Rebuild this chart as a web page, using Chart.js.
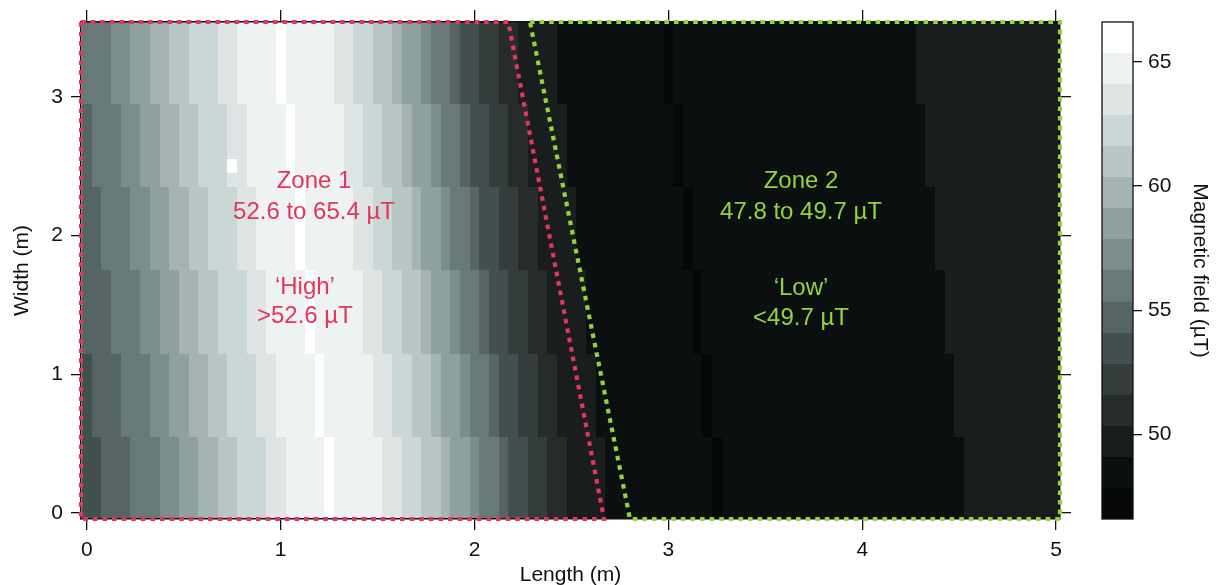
<!DOCTYPE html>
<html>
<head>
<meta charset="utf-8">
<title>Magnetic field map</title>
<script src="https://cdn.jsdelivr.net/npm/chart.js@4.4.1/dist/chart.umd.min.js"></script>
<style>
  html, body { margin: 0; padding: 0; background: #fff; }
  #wrap { width: 1217px; height: 585px; }
</style>
</head>
<body>
<div id="wrap"><canvas id="chart" width="1217" height="585"></canvas></div>
<script>
// Axes (m)
const xMin = -0.03, xMax = 5.02;
const yMin = -0.043, yMax = 3.541;
const xTicks = [0, 1, 2, 3, 4, 5];
const yTicks = [0, 1, 2, 3];

// Rows of the scan, top to bottom (y edges in m)
const rowEdgesY = [3.55, 2.95, 2.35, 1.75, 1.15, 0.55, -0.05];

// Each row: x edges of constant cells (m) and field in each cell (µT)
const row1Edges = [-0.025, 0.125, 0.225, 0.325, 0.425, 0.525, 0.675, 0.775, 0.975, 1.025, 1.275, 1.375, 1.475, 1.575, 1.625, 1.725, 1.775, 1.875, 1.925, 2.025, 2.125, 2.225, 2.325, 2.425, 2.975, 3.025, 4.275, 5.025];
const row1Field = [56.0, 57.2, 58.5, 59.7, 61.0, 62.2, 63.5, 64.7, 66.0, 64.7, 63.5, 62.2, 61.0, 59.7, 58.5, 57.2, 56.0, 54.7, 53.5, 52.2, 51.0, 49.8, 49.2, 48.5, 47.2, 48.3, 49.7];

const row2Edges = [-0.025, 0.025, 0.175, 0.275, 0.375, 0.475, 0.575, 0.725, 0.825, 1.025, 1.075, 1.325, 1.425, 1.525, 1.625, 1.675, 1.775, 1.825, 1.925, 1.975, 2.075, 2.175, 2.275, 2.375, 2.475, 3.025, 3.075, 4.325, 5.025];
const row2Field = [54.7, 56.0, 57.2, 58.5, 59.7, 61.0, 62.2, 63.5, 64.7, 66.0, 64.7, 63.5, 62.2, 61.0, 59.7, 58.5, 57.2, 56.0, 54.7, 53.5, 52.2, 51.0, 49.8, 49.2, 48.5, 47.2, 48.3, 49.7];

const row3Edges = [-0.025, 0.075, 0.225, 0.325, 0.425, 0.525, 0.625, 0.775, 0.875, 1.075, 1.125, 1.375, 1.475, 1.575, 1.675, 1.725, 1.825, 1.875, 1.975, 2.025, 2.125, 2.225, 2.325, 2.425, 2.525, 3.075, 3.125, 4.375, 5.025];
const row3Field = [54.7, 56.0, 57.2, 58.5, 59.7, 61.0, 62.2, 63.5, 64.7, 66.0, 64.7, 63.5, 62.2, 61.0, 59.7, 58.5, 57.2, 56.0, 54.7, 53.5, 52.2, 51.0, 49.8, 49.2, 48.5, 47.2, 48.3, 49.7];

const row4Edges = [-0.025, 0.125, 0.275, 0.375, 0.475, 0.575, 0.675, 0.825, 0.925, 1.125, 1.175, 1.425, 1.525, 1.625, 1.725, 1.775, 1.875, 1.925, 2.025, 2.075, 2.175, 2.275, 2.375, 2.475, 2.575, 3.125, 3.175, 4.425, 5.025];
const row4Field = [54.7, 56.0, 57.2, 58.5, 59.7, 61.0, 62.2, 63.5, 64.7, 66.0, 64.7, 63.5, 62.2, 61.0, 59.7, 58.5, 57.2, 56.0, 54.7, 53.5, 52.2, 51.0, 49.8, 49.2, 48.5, 47.2, 48.3, 49.7];

const row5Edges = [-0.025, 0.025, 0.175, 0.325, 0.425, 0.525, 0.625, 0.725, 0.875, 0.975, 1.175, 1.225, 1.475, 1.575, 1.675, 1.775, 1.825, 1.925, 1.975, 2.075, 2.125, 2.225, 2.325, 2.425, 2.525, 2.625, 3.175, 3.225, 4.475, 5.025];
const row5Field = [53.5, 54.7, 56.0, 57.2, 58.5, 59.7, 61.0, 62.2, 63.5, 64.7, 66.0, 64.7, 63.5, 62.2, 61.0, 59.7, 58.5, 57.2, 56.0, 54.7, 53.5, 52.2, 51.0, 49.8, 49.2, 48.5, 47.2, 48.3, 49.7];

const row6Edges = [-0.025, 0.075, 0.225, 0.375, 0.475, 0.575, 0.675, 0.775, 0.925, 1.025, 1.225, 1.275, 1.525, 1.625, 1.725, 1.825, 1.875, 1.975, 2.025, 2.125, 2.175, 2.275, 2.375, 2.475, 2.575, 2.675, 3.225, 3.275, 4.525, 5.025];
const row6Field = [53.5, 54.7, 56.0, 57.2, 58.5, 59.7, 61.0, 62.2, 63.5, 64.7, 66.0, 64.7, 63.5, 62.2, 61.0, 59.7, 58.5, 57.2, 56.0, 54.7, 53.5, 52.2, 51.0, 49.8, 49.2, 48.5, 47.2, 48.3, 49.7];

// single high reading inside row 2
const spikeX = [0.725, 0.775];
const spikeY = [2.45, 2.55];
const spikeField = 66.0;

// Colour bar: level edges (µT) and grey of each band, low to high
const cbLevels = [46.6, 47.85, 49.1, 50.35, 51.6, 52.85, 54.1, 55.35, 56.6, 57.85, 59.1, 60.35, 61.6, 62.85, 64.1, 65.35, 66.6];
const cbColors = ['#060707', '#0c0f0f', '#191d1d', '#262c2c', '#343c3c', '#434f4f', '#556464', '#677979',
                  '#7b8d8d', '#8ea0a0', '#a4b4b4', '#b8c6c6', '#cbd7d7', '#dfe5e5', '#eff2f2', '#ffffff'];
const cbTicks = [50, 55, 60, 65];

// Zone outlines (m)
const zone1X = [-0.03, 2.174, 2.668, -0.03, -0.03];
const zone1Y = [3.541, 3.541, -0.043, -0.043, 3.541];
const zone2X = [2.286, 5.02, 5.02, 2.802, 2.286];
const zone2Y = [3.541, 3.541, -0.043, -0.043, 3.541];

// Zone labels
const zone1Text = ['Zone 1', '52.6 to 65.4 µT', '\u2018High\u2019', '>52.6 µT'];
const zone1TextX = [1.172, 1.172, 1.125, 1.125];
const zone1TextY = [2.39, 2.17, 1.63, 1.42];
const zone2Text = ['Zone 2', '47.8 to 49.7 µT', '\u2018Low\u2019', '<49.7 µT'];
const zone2TextX = [3.684, 3.684, 3.684, 3.684];
const zone2TextY = [2.39, 2.17, 1.62, 1.405];

const RED = '#e3365c';
const GREEN = '#92d43b';
const FONT = "'Liberation Sans', Arial, sans-serif";

Chart.defaults.font.family = FONT;
Chart.defaults.color = '#111';

const rows = [
    [row1Edges, row1Field], [row2Edges, row2Field], [row3Edges, row3Field],
    [row4Edges, row4Field], [row5Edges, row5Field], [row6Edges, row6Field]
];

function fieldColor(v) {
    for (let i = 0; i < cbColors.length; i++) {
        if (v < cbLevels[i + 1]) return cbColors[i];
    }
    return cbColors[cbColors.length - 1];
}

// cells and colour bar go under the axes
const heatmapPlugin = {
    id: 'heatmap',
    beforeDraw(chart) {
        const { ctx, chartArea, scales } = chart;
        const x = scales.x, y = scales.y, cb = scales.cb;
        ctx.save();
        ctx.beginPath();
        ctx.rect(chartArea.left, chartArea.top, chartArea.width, chartArea.height);
        ctx.clip();
        rows.forEach(([edges, field], i) => {
            const yt = Math.round(y.getPixelForValue(rowEdgesY[i]));
            const yb = Math.round(y.getPixelForValue(rowEdgesY[i + 1]));
            for (let k = 0; k < field.length; k++) {
                const x0 = Math.round(x.getPixelForValue(edges[k]));
                const x1 = Math.round(x.getPixelForValue(edges[k + 1]));
                ctx.fillStyle = fieldColor(field[k]);
                ctx.fillRect(x0, yt, x1 - x0, yb - yt);
            }
        });
        const sx0 = Math.round(x.getPixelForValue(spikeX[0]));
        const sx1 = Math.round(x.getPixelForValue(spikeX[1]));
        const sy0 = Math.round(y.getPixelForValue(spikeY[1]));
        const sy1 = Math.round(y.getPixelForValue(spikeY[0]));
        ctx.fillStyle = fieldColor(spikeField);
        ctx.fillRect(sx0, sy0, sx1 - sx0, sy1 - sy0);
        ctx.restore();

        // colour bar
        const right = cb.left, left = right - 31;
        ctx.save();
        for (let i = 0; i < cbColors.length; i++) {
            const p0 = Math.round(cb.getPixelForValue(cbLevels[i]));
            const p1 = Math.round(cb.getPixelForValue(cbLevels[i + 1]));
            ctx.fillStyle = cbColors[i];
            ctx.fillRect(left, p1, right - left, p0 - p1);
        }
        ctx.strokeStyle = '#111';
        ctx.lineWidth = 1.3;
        ctx.strokeRect(left, cb.top, right - left, cb.bottom - cb.top);
        ctx.restore();
    },
    afterDatasetsDraw(chart) {
        const { ctx, scales: { x, y } } = chart;
        ctx.save();
        ctx.font = '24px ' + FONT;
        ctx.textAlign = 'center';
        ctx.textBaseline = 'middle';
        ctx.fillStyle = RED;
        zone1Text.forEach((t, i) => ctx.fillText(t, x.getPixelForValue(zone1TextX[i]), y.getPixelForValue(zone1TextY[i])));
        ctx.fillStyle = GREEN;
        zone2Text.forEach((t, i) => ctx.fillText(t, x.getPixelForValue(zone2TextX[i]), y.getPixelForValue(zone2TextY[i])));
        ctx.restore();
    }
};

const frameGrid = { drawOnChartArea: false, color: '#111', lineWidth: 1.3 };
const frameBorder = { display: true, color: '#111', width: 1.5 };

new Chart(document.getElementById('chart'), {
    type: 'scatter',
    data: {
        datasets: [
            {
                data: zone1X.map((v, i) => ({ x: v, y: zone1Y[i] })),
                showLine: true, borderColor: RED, borderWidth: 4.2, borderDash: [4.6, 5],
                pointRadius: 0, tension: 0, clip: false
            },
            {
                data: zone2X.map((v, i) => ({ x: v, y: zone2Y[i] })),
                showLine: true, borderColor: GREEN, borderWidth: 4.2, borderDash: [4.6, 5],
                pointRadius: 0, tension: 0, clip: false
            }
        ]
    },
    options: {
        responsive: false,
        animation: false,
        layout: { padding: 0 },
        plugins: { legend: { display: false }, tooltip: { enabled: false } },
        scales: {
            x: {
                type: 'linear', position: 'bottom', min: xMin, max: xMax,
                afterBuildTicks: s => { s.ticks = xTicks.map(v => ({ value: v })); },
                ticks: { padding: 8, maxRotation: 0, font: { size: 21 } },
                grid: { ...frameGrid, tickLength: 11 },
                border: frameBorder,
                title: { display: true, text: 'Length (m)', font: { size: 21 }, padding: { top: 0, bottom: -3 } },
                afterFit: s => { s.height = 66; }
            },
            x2: {
                type: 'linear', position: 'top', min: xMin, max: xMax,
                afterBuildTicks: s => { s.ticks = xTicks.map(v => ({ value: v })); },
                ticks: { display: false },
                grid: { ...frameGrid, tickLength: 12 },
                border: frameBorder,
                afterFit: s => { s.height = 22; }
            },
            y: {
                type: 'linear', position: 'left', min: yMin, max: yMax,
                afterBuildTicks: s => { s.ticks = yTicks.map(v => ({ value: v })); },
                ticks: { padding: 8, font: { size: 21 } },
                grid: { ...frameGrid, tickLength: 10 },
                border: frameBorder,
                title: { display: true, text: 'Width (m)', font: { size: 21 }, padding: { top: 10, bottom: 0 } },
                afterFit: s => { s.width = 81; }
            },
            y2: {
                type: 'linear', position: 'right', min: yMin, max: yMax, weight: 0,
                afterBuildTicks: s => { s.ticks = yTicks.map(v => ({ value: v })); },
                ticks: { display: false },
                grid: { ...frameGrid, tickLength: 11 },
                border: frameBorder,
                afterFit: s => { s.width = 73; }
            },
            cb: {
                type: 'linear', position: 'right', min: cbLevels[0], max: cbLevels[cbLevels.length - 1], weight: 1,
                afterBuildTicks: s => { s.ticks = cbTicks.map(v => ({ value: v })); },
                ticks: { padding: 6, font: { size: 21 } },
                grid: { ...frameGrid, tickLength: 9 },
                border: { display: false },
                title: { display: true, text: 'Magnetic field (µT)', font: { size: 21 }, padding: { top: 5, bottom: 0 } },
                afterFit: s => { s.width = 84; }
            }
        }
    },
    plugins: [heatmapPlugin]
});
</script>
</body>
</html>
